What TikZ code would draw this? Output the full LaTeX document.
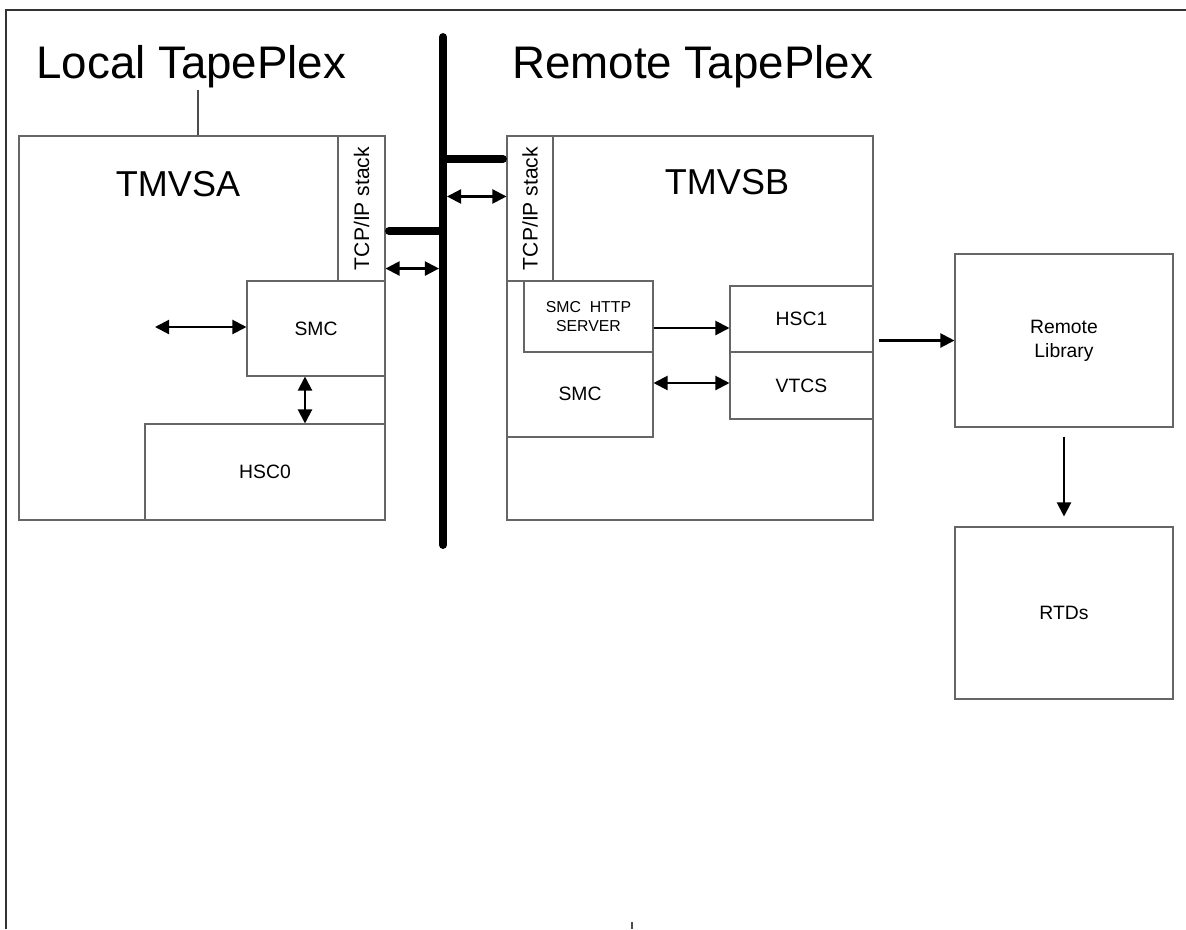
\documentclass[tikz,border=0pt]{standalone}
\usepackage{fontspec}
\setmainfont{Liberation Sans}
\usepackage{tikz}
\usetikzlibrary{arrows.meta,positioning}
\tikzstyle{box} = [rectangle, draw=black!60, line width=0.6pt, inner sep=0pt, font=\fontsize{11}{13.5}\selectfont]
\tikzstyle{stacktext} = [rotate=90, inner sep=0pt, font=\fontsize{12}{14}\selectfont]
\tikzstyle{title} = [anchor=base west, inner sep=0pt, font=\fontsize{26}{30}\selectfont]
\tikzstyle{hostname} = [inner sep=0pt, font=\fontsize{20.5}{24}\selectfont]
\tikzstyle{arrow} = [line width=1.2pt,->]
\tikzstyle{dblarrow} = [line width=1.2pt,<->]
\tikzstyle{bus} = [line width=4.5pt, line cap=round]

\begin{document}
\begin{tikzpicture}[>={Triangle[length=8pt,width=8pt]}]
            \useasboundingbox (0,0) rectangle (23.72,-18.58);
            \draw[black!80, line width=1.1pt] (0.12,-18.58) -- (0.12,-0.2) -- (23.72,-0.2);
            \draw[black!70, line width=0.6pt] (12.64,-18.44) -- (12.64,-18.58);

            \node[title] (localtitle) at (0.72,-1.56) {Local TapePlex};
            \node[title] (remotetitle) at (10.24,-1.56) {Remote TapePlex};

            \node[box, minimum width=7.32cm, minimum height=7.68cm] (tmvsa) at (4.04,-6.56) {};
            \node[hostname] (tmvsatext) at (3.56,-3.68) {TMVSA};
            \node[box, minimum width=0.94cm, minimum height=2.90cm] (stackA) at (7.23,-4.17) {};
            \node[stacktext] at (stackA) {TCP/IP stack};
            \node[box, minimum width=2.76cm, minimum height=1.90cm] (smcA) at (6.32,-6.57) {SMC};
            \node[box, minimum width=4.80cm, minimum height=1.92cm] (hsc0) at (5.30,-9.44) {HSC0};

            \node[box, minimum width=7.32cm, minimum height=7.68cm] (tmvsb) at (13.80,-6.56) {};
            \node[hostname] (tmvsbtext) at (14.54,-3.64) {TMVSB};
            \node[box, minimum width=0.92cm, minimum height=2.90cm] (stackB) at (10.60,-4.17) {};
            \node[stacktext] at (stackB) {TCP/IP stack};
            \node[box, minimum width=2.92cm, minimum height=3.12cm] (smcB) at (11.60,-7.18) {};
            \node (smcBtext) at (11.60,-7.88) [font=\fontsize{11}{13.5}\selectfont] {SMC};
            \node[box, minimum width=2.58cm, minimum height=1.42cm, align=center, font=\fontsize{9}{10.5}\selectfont] (http) at (11.77,-6.33) {SMC\ \ HTTP\\SERVER};
            \node[box, minimum width=2.86cm, minimum height=1.32cm] (hsc1) at (16.03,-6.38) {HSC1};
            \node[box, minimum width=2.86cm, minimum height=1.34cm] (vtcs) at (16.03,-7.71) {VTCS};

            \node[box, minimum width=4.36cm, minimum height=3.46cm, align=center] (rlib) at (21.28,-6.81) {Remote\\Library};
            \node[box, minimum width=4.36cm, minimum height=3.44cm] (rtds) at (21.28,-12.26) {RTDs};

            \coordinate (bustop) at (8.86,-0.74);
            \coordinate (busbot) at (8.86,-10.90);
            \coordinate (busL) at (8.78,0);
            \coordinate (busR) at (8.94,0);
            \coordinate (smcin) at (3.10,-6.54);
            \coordinate (pole) at (3.96,-1.80);

            \draw[bus] (bustop) -- (busbot);
            \draw[bus] (bustop |- 0,-4.62) -- (7.78,-4.62);
            \draw[bus] (bustop |- 0,-3.18) -- (10.06,-3.18);

            \draw[black!70, line width=0.6pt] (pole) -- (pole |- tmvsa.north);

            \draw[dblarrow] ([yshift=0.26cm]stackA.south east) -- ([yshift=0.26cm]stackA.south east -| busL);
            \draw[dblarrow] ([yshift=-1.22cm]stackB.north west -| busR) -- ([yshift=-1.22cm]stackB.north west);
            \draw[dblarrow] (smcin) -- (smcin -| smcA.west);
            \draw[dblarrow] ([xshift=-0.22cm]smcA.south) -- ([xshift=-0.22cm]smcA.south |- hsc0.north);
            \draw[arrow] ([yshift=-0.23cm]http.east) -- ([yshift=-0.23cm]http.east -| hsc1.west);
            \draw[dblarrow] ([yshift=-0.48cm]smcB.east) -- ([yshift=-0.48cm]smcB.east -| vtcs.west);
            \draw[arrow] ([xshift=0.1cm]rlib.west -| vtcs.east) -- (rlib.west);
            \draw[arrow] ([yshift=-0.18cm]rlib.south) -- ([yshift=0.2cm]rtds.north);
        \end{tikzpicture}
\end{document}
